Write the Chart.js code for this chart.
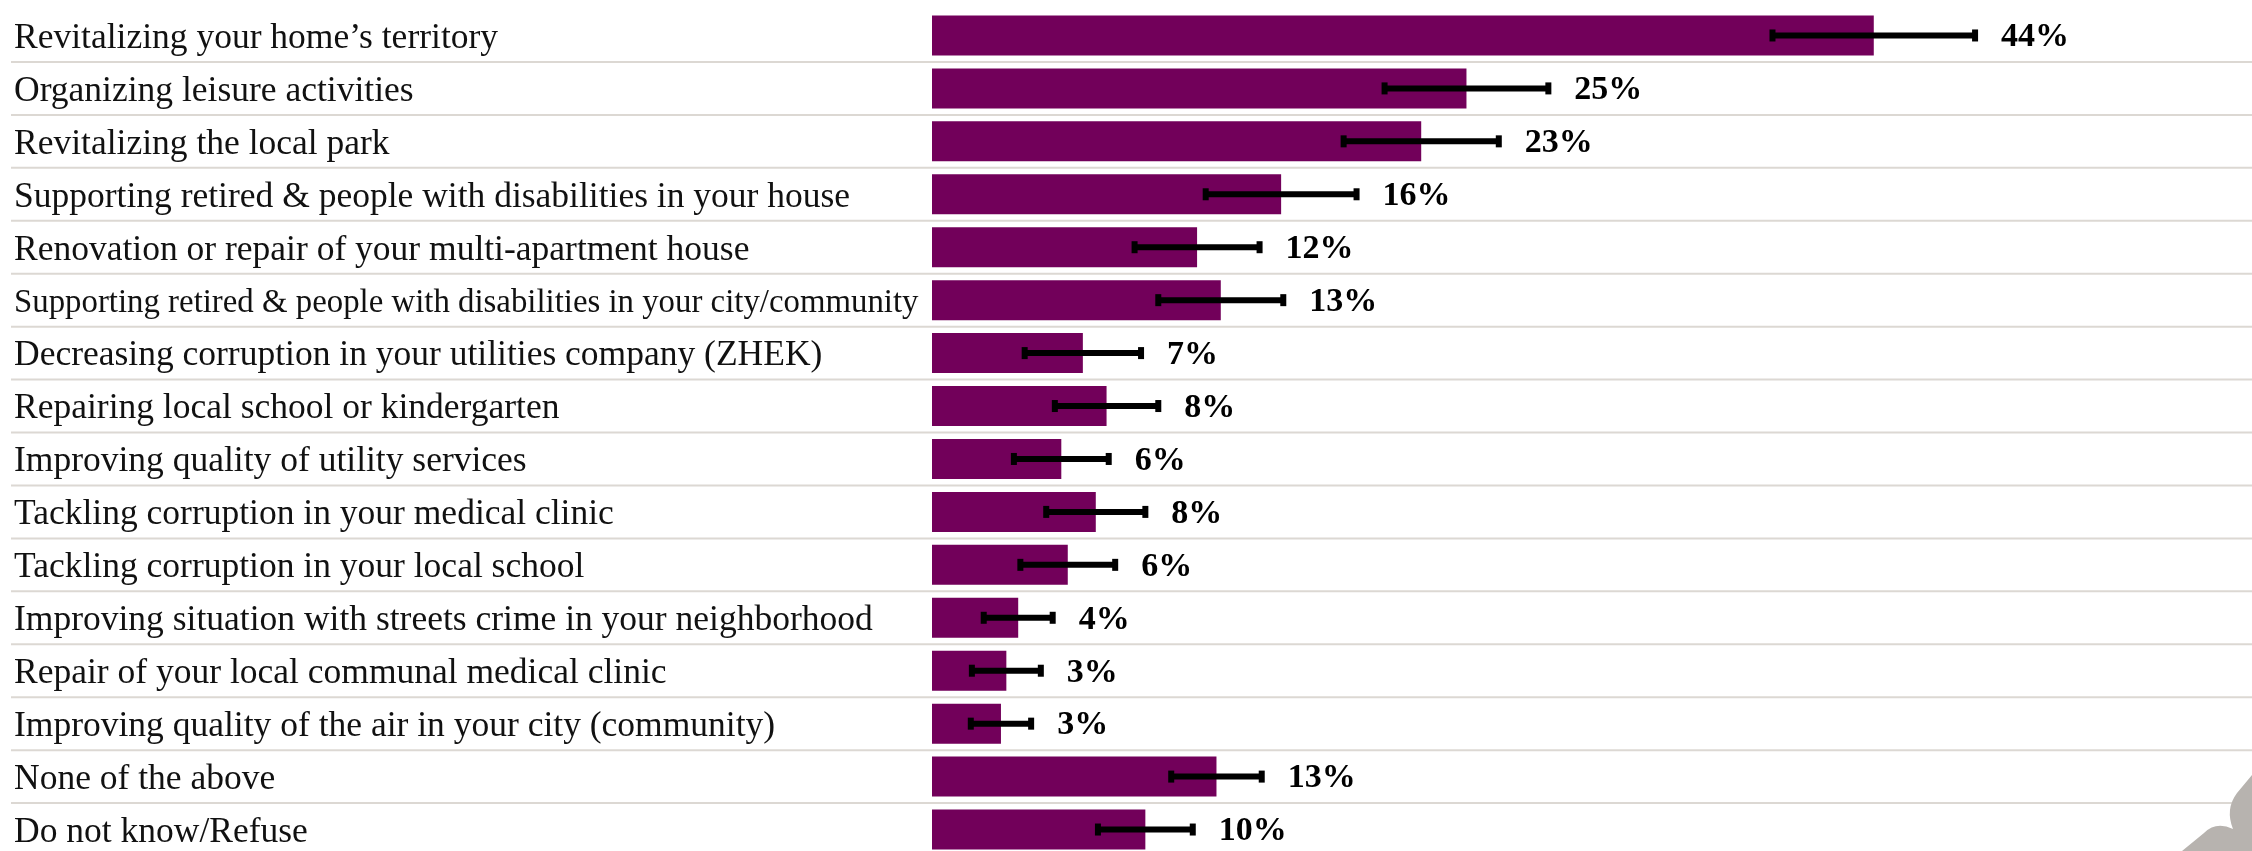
<!DOCTYPE html>
<html>
<head>
<meta charset="utf-8">
<script src="https://cdn.jsdelivr.net/npm/chart.js@4.4.1/dist/chart.umd.min.js"></script>
<style>
  html, body { margin: 0; padding: 0; background: #fff; overflow: hidden; }
  #wrap { position: absolute; left: 0; top: 0; width: 2252px; height: 862px; }
</style>
</head>
<body>
<div id="wrap"><canvas id="surveyChart"></canvas></div>
<script>
// Survey answers, share of respondents (%), with error margins
const categories = [
    "Revitalizing your home\u2019s territory",
    "Organizing leisure activities",
    "Revitalizing the local park",
    "Supporting retired & people with disabilities in your house",
    "Renovation or repair of your multi-apartment house",
    "Supporting retired & people with disabilities in your city/community",
    "Decreasing corruption in your utilities company (ZHEK)",
    "Repairing local school or kindergarten",
    "Improving quality of utility services",
    "Tackling corruption in your medical clinic",
    "Tackling corruption in your local school",
    "Improving situation with streets crime in your neighborhood",
    "Repair of your local communal medical clinic",
    "Improving quality of the air in your city (community)",
    "None of the above",
    "Do not know/Refuse"
];
const shares = [43.7, 24.8, 22.7, 16.2, 12.3, 13.4, 7.0, 8.1, 6.0, 7.6, 6.3, 4.0, 3.45, 3.2, 13.2, 9.9];
const margins = [4.7, 3.8, 3.6, 3.5, 2.9, 2.9, 2.7, 2.4, 2.2, 2.3, 2.2, 1.6, 1.6, 1.4, 2.1, 2.2];

// labels that are too long get squeezed to fit the label column
const measurer = document.createElement("canvas").getContext("2d");
function labelFont(context) {
    const base = 35.5;
    measurer.font = base + "px 'Liberation Serif'";
    const w = measurer.measureText(categories[context.index] || "").width;
    const size = w > 905 ? base * 905 / w : base;
    return { family: "'Liberation Serif'", size: size, lineHeight: 0.3 };
}

// thin rules between rows, running under the labels too
const rowLines = {
    id: "rowLines",
    beforeDatasetsDraw(chart) {
        const y = chart.scales.y;
        const ctx = chart.ctx;
        ctx.save();
        ctx.strokeStyle = "#dcd8d3";
        ctx.lineWidth = 2;
        for (let i = 1; i < categories.length; i++) {
            const py = (y.getPixelForTick(i - 1) + y.getPixelForTick(i)) / 2;
            ctx.beginPath();
            ctx.moveTo(11, py);
            ctx.lineTo(chart.width, py);
            ctx.stroke();
        }
        ctx.restore();
    }
};

// error whiskers + value labels
const errorBars = {
    id: "errorBars",
    afterDatasetsDraw(chart) {
        const x = chart.scales.x;
        const ctx = chart.ctx;
        const bars = chart.getDatasetMeta(0).data;
        ctx.save();
        bars.forEach((bar, i) => {
            const x1 = x.getPixelForValue(shares[i] - margins[i]);
            const x2 = x.getPixelForValue(shares[i] + margins[i]);
            const y = bar.y;
            ctx.strokeStyle = "#000";
            ctx.lineWidth = 6;
            ctx.beginPath();
            ctx.moveTo(x1, y);
            ctx.lineTo(x2, y);
            ctx.stroke();
            ctx.fillStyle = "#000";
            ctx.fillRect(x1 - 3, y - 6, 6, 12);
            ctx.fillRect(x2 - 3, y - 6, 6, 12);

            ctx.font = "bold 34px 'Liberation Serif'";
            ctx.textAlign = "left";
            ctx.textBaseline = "middle";
            ctx.fillText(Math.round(shares[i]) + "%", x2 + 26, y + 2);
        });
        ctx.restore();
    }
};

// grey ornament in the lower right corner
const cornerMark = {
    id: "cornerMark",
    afterDraw(chart) {
        const ctx = chart.ctx;
        const w = chart.width, h = 851;
        ctx.save();
        ctx.fillStyle = "#b7b3af";
        ctx.beginPath();
        ctx.moveTo(w, h - 76);
        ctx.lineTo(w - 15, h - 58);
        ctx.quadraticCurveTo(w - 27, h - 42, w - 19, h - 22);
        ctx.quadraticCurveTo(w - 36, h - 30, w - 48, h - 18);
        ctx.lineTo(w - 70, h);
        ctx.lineTo(w, h);
        ctx.closePath();
        ctx.fill();
        ctx.restore();
    }
};

const ctx = document.getElementById("surveyChart").getContext("2d");
new Chart(ctx, {
    type: "bar",
    data: {
        labels: categories,
        datasets: [{
            data: shares,
            backgroundColor: "#72005a",
            borderWidth: 0,
            barPercentage: 0.756,
            categoryPercentage: 1
        }]
    },
    options: {
        indexAxis: "y",
        responsive: true,
        maintainAspectRatio: false,
        animation: false,
        layout: { padding: { left: 14, right: 0, top: 9, bottom: 6 } },
        plugins: {
            legend: { display: false },
            tooltip: { enabled: false }
        },
        scales: {
            x: { display: false, min: 0, max: 61.25 },
            y: {
                position: "left",
                grid: { display: false },
                border: { display: false },
                ticks: {
                    crossAlign: "far",
                    autoSkip: false,
                    padding: 0,
                    labelOffset: 3,
                    color: "#111",
                    font: labelFont
                },
                afterFit(scale) { scale.width = 918; }
            }
        }
    },
    plugins: [rowLines, errorBars, cornerMark]
});
</script>
</body>
</html>
